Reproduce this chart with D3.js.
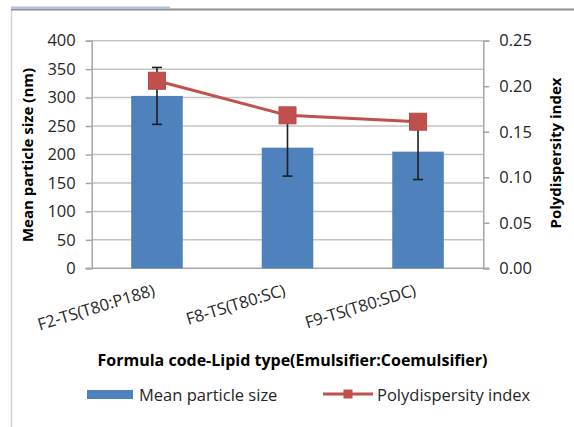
<!DOCTYPE html>
<html>
<head>
<meta charset="utf-8">
<script src="https://cdn.jsdelivr.net/npm/d3@7"></script>
<style>
  html, body { margin: 0; padding: 0; background: #fff; }
  svg { display: block; font-family: "Open Sans", Lato, sans-serif; }
</style>
</head>
<body>
<svg id="chart" width="574" height="427"></svg>
<script>
// Formulations on the x axis
const categories = ["F2-TS(T80:P188)", "F8-TS(T80:SC)", "F9-TS(T80:SDC)"];
// Mean particle size (nm) with its standard deviation
const meanSize = [303, 212, 205];
const meanSizeErr = [50, 50, 49];
// Polydispersity index
const pdi = [0.206, 0.168, 0.161];
// Axis ticks
const leftTicks = [0, 50, 100, 150, 200, 250, 300, 350, 400];
const rightTicks = [0, 0.05, 0.10, 0.15, 0.20, 0.25];

const barColor = "#4F81BD";
const lineColor = "#C0504D";
const gridColor = "#c3c3c3";
const axisColor = "#a6a6a6";
const textColor = "#262626";
const font = "'Open Sans', Lato, sans-serif";

const svg = d3.select("#chart");

// Outer frame of the chart object
svg.append("line").attr("x1", 11.5).attr("x2", 11.5).attr("y1", 9).attr("y2", 427)
  .attr("stroke", "#d4d4d4").attr("stroke-width", 1.5);
svg.append("line").attr("x1", 11).attr("x2", 574).attr("y1", 9.5).attr("y2", 9.5)
  .attr("stroke", "#8f8f8f").attr("stroke-width", 2);
svg.append("line").attr("x1", 11).attr("x2", 170).attr("y1", 7.5).attr("y2", 7.5)
  .attr("stroke", "#a9c4e4").attr("stroke-width", 2);

const plot = { left: 91.7, right: 483.3, top: 40.7, bottom: 268.3 };

const x = d3.scaleBand().domain(categories)
  .range([plot.left, plot.right]).paddingInner(0.605).paddingOuter(0.3025);
const yL = d3.scaleLinear().domain([0, 400]).range([plot.bottom, plot.top]);
const yR = d3.scaleLinear().domain([0, 0.25]).range([plot.bottom, plot.top]);

// Horizontal gridlines
svg.append("g").selectAll("line").data(leftTicks.slice(1)).join("line")
  .attr("x1", plot.left).attr("x2", plot.right)
  .attr("y1", d => yL(d)).attr("y2", d => yL(d))
  .attr("stroke", gridColor).attr("stroke-width", 1.5);

// Left axis
const gL = svg.append("g").attr("transform", `translate(${plot.left},0)`)
  .call(d3.axisLeft(yL).tickValues(leftTicks).tickSize(6).tickPadding(10).tickFormat(d3.format("d")));
gL.select(".domain").attr("stroke", axisColor).attr("stroke-width", 1.5);
gL.selectAll(".tick line").attr("stroke", axisColor).attr("stroke-width", 1.5);
gL.selectAll(".tick text").attr("fill", textColor).attr("font-size", 16.5)
  .attr("font-family", font);

// Right axis
const gR = svg.append("g").attr("transform", `translate(${plot.right},0)`)
  .call(d3.axisRight(yR).tickValues(rightTicks).tickSize(6).tickPadding(10).tickFormat(d3.format(".2f")));
gR.select(".domain").attr("stroke", axisColor).attr("stroke-width", 1.5);
gR.selectAll(".tick line").attr("stroke", axisColor).attr("stroke-width", 1.5);
gR.selectAll(".tick text").attr("fill", textColor).attr("font-size", 16.5)
  .attr("font-family", font);

// Baseline
svg.append("line").attr("x1", plot.left - 6).attr("x2", plot.right + 6)
  .attr("y1", yL(0)).attr("y2", yL(0)).attr("stroke", axisColor).attr("stroke-width", 1.5);

// Bars
svg.append("g").selectAll("rect").data(meanSize).join("rect")
  .attr("x", (d, i) => x(categories[i]))
  .attr("width", x.bandwidth())
  .attr("y", d => yL(d))
  .attr("height", d => yL(0) - yL(d))
  .attr("fill", barColor);

// Error bars
const eb = svg.append("g").attr("stroke", "#1f1f1f").attr("stroke-width", 1.6);
meanSize.forEach((v, i) => {
  const cx = x(categories[i]) + x.bandwidth() / 2;
  const hi = yL(v + meanSizeErr[i]), lo = yL(v - meanSizeErr[i]);
  eb.append("line").attr("x1", cx).attr("x2", cx).attr("y1", hi).attr("y2", lo);
  eb.append("line").attr("x1", cx - 5).attr("x2", cx + 5).attr("y1", hi).attr("y2", hi);
  eb.append("line").attr("x1", cx - 5).attr("x2", cx + 5).attr("y1", lo).attr("y2", lo);
});

// PDI line with square markers
const cxOf = i => x(categories[i]) + x.bandwidth() / 2;
svg.append("path").datum(pdi)
  .attr("d", d3.line().x((d, i) => cxOf(i)).y(d => yR(d)))
  .attr("fill", "none").attr("stroke", lineColor).attr("stroke-width", 3);
const ms = 17;
svg.append("g").selectAll("rect").data(pdi).join("rect")
  .attr("x", (d, i) => cxOf(i) - ms / 2).attr("y", d => yR(d) - ms / 2)
  .attr("width", ms).attr("height", ms)
  .attr("fill", lineColor).attr("stroke", "#b94a47").attr("stroke-width", 1);

// Rotated category labels
svg.append("g").selectAll("text").data(categories).join("text")
  .attr("transform", (d, i) => `translate(${cxOf(i) - 1},295) rotate(-17)`)
  .attr("text-anchor", "end")
  .attr("font-size", 16.5).attr("fill", textColor)
  .text(d => d);

// Axis titles
svg.append("text").attr("transform", "translate(33,155) rotate(-90)")
  .attr("text-anchor", "middle").attr("font-size", 15).attr("font-weight", "bold")
  .attr("fill", "#000").text("Mean particle size (nm)");
svg.append("text").attr("transform", "translate(561,153) rotate(-90)")
  .attr("text-anchor", "middle").attr("font-size", 15).attr("font-weight", "bold")
  .attr("fill", "#000").text("Polydispersity index");
svg.append("text").attr("x", 292.5).attr("y", 366)
  .attr("text-anchor", "middle").attr("font-size", 16).attr("font-weight", "bold")
  .attr("fill", "#000").text("Formula code-Lipid type(Emulsifier:Coemulsifier)");

// Legend
const lg = svg.append("g");
lg.append("rect").attr("x", 87).attr("y", 390).attr("width", 46).attr("height", 9).attr("fill", barColor);
lg.append("text").attr("x", 139).attr("y", 400.5).attr("font-size", 16.5).attr("fill", textColor)
  .text("Mean particle size");
lg.append("line").attr("x1", 323).attr("x2", 373).attr("y1", 394).attr("y2", 394)
  .attr("stroke", lineColor).attr("stroke-width", 3);
lg.append("rect").attr("x", 343.5).attr("y", 389.5).attr("width", 9).attr("height", 9)
  .attr("fill", lineColor);
lg.append("text").attr("x", 377).attr("y", 400.5).attr("font-size", 16.5).attr("fill", textColor)
  .text("Polydispersity index");
</script>
</body>
</html>
